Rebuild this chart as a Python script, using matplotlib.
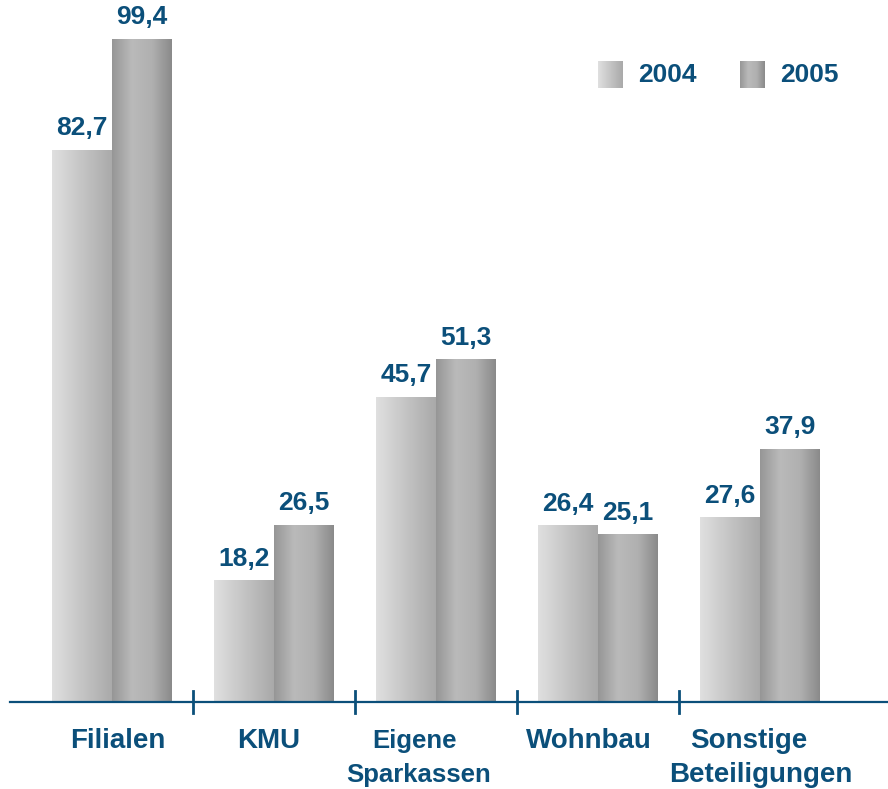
import numpy as np
import matplotlib
matplotlib.use('Agg')
import matplotlib.pyplot as plt
from matplotlib.colors import LinearSegmentedColormap

# ── Data ──────────────────────────────────────────────────────────────────────
categories = ["Filialen", "KMU", "Eigene\nSparkassen", "Wohnbau", "Sonstige\nBeteiligungen"]
years = ["2004", "2005"]
values_2004 = [82.7, 18.2, 45.7, 26.4, 27.6]
values_2005 = [99.4, 26.5, 51.3, 25.1, 37.9]

BLUE = "#0b4f7a"
FONT = 'Liberation Sans'
cmap_2004 = LinearSegmentedColormap.from_list("g04", ["#e0e0e0", "#c4c4c4", "#a9a9a9"])
cmap_2005 = LinearSegmentedColormap.from_list("g05", ["#969696", "#bababa", "#b0b0b0", "#8a8a8a"])
grad = np.linspace(0, 1, 256).reshape(1, -1)

fig = plt.figure(figsize=(8.88, 7.89), dpi=100)
ax = fig.add_axes([0, 0, 1, 1])
ax.set_axis_off()

ppu = 6.67     # pixels per value unit
step = 162.0   # pixels per category
x0 = 112.0     # pixel x of first category centre
base = 702.0   # pixel y of baseline
W, H = 888, 789

bw = 60 / step
x = np.arange(len(categories))

def py(px):
    # pixel row -> data y
    return (base - px) / ppu

def gbar(xl, h, cmap):
    ax.imshow(grad, extent=[xl, xl + bw, 0, h], aspect='auto', cmap=cmap,
              interpolation='bicubic', zorder=2)

def fmt(v):
    return f"{v:.1f}".replace('.', ',')

for i in x:
    gbar(i - bw, values_2004[i], cmap_2004)
    gbar(i, values_2005[i], cmap_2005)
    ax.text(i - bw / 2, values_2004[i] + 1.5, fmt(values_2004[i]),
            ha='center', va='bottom', color=BLUE, fontsize=19, fontweight='bold',
            family=FONT)
    ax.text(i + bw / 2, values_2005[i] + 1.5, fmt(values_2005[i]),
            ha='center', va='bottom', color=BLUE, fontsize=19, fontweight='bold',
            family=FONT)

# baseline and separator ticks
ax.plot([(10 - x0) / step, (W - x0) / step], [0, 0], color=BLUE, lw=1.6, zorder=3)
for t in x[:-1] + 0.5:
    ax.plot([t, t], [1.7, -1.6], color=BLUE, lw=2, zorder=3)

# category labels, one text per line
line_offsets = [[0.034], [-0.034], [-0.13, -0.105], [-0.056], [-0.068, 0.006]]
sizes = [20, 20, 18.5, 20, 20]
line_rows = [748, 782]
for i, lab in enumerate(categories):
    for j, part in enumerate(lab.split('\n')):
        ax.text(i + line_offsets[i][j], py(line_rows[j]), part, ha='center',
                va='baseline', color=BLUE, fontsize=sizes[i], fontweight='bold',
                family=FONT)

# legend
ly0, ly1 = py(88), py(62)
pw = 25 / step
for xs, cm, yr in [((598 - x0) / step, cmap_2004, years[0]),
                   ((740 - x0) / step, cmap_2005, years[1])]:
    ax.imshow(grad, extent=[xs, xs + pw, ly0, ly1], aspect='auto', cmap=cm,
              interpolation='bicubic', zorder=2)
    ax.text(xs + pw + 15 / step, (ly0 + ly1) / 2, yr, ha='left', va='center',
            color=BLUE, fontsize=19, fontweight='bold', family=FONT)

ax.set_xlim(-x0 / step, (W - x0) / step)
ax.set_ylim(-(H - base) / ppu, base / ppu)
fig.savefig("out.png", dpi=100)
